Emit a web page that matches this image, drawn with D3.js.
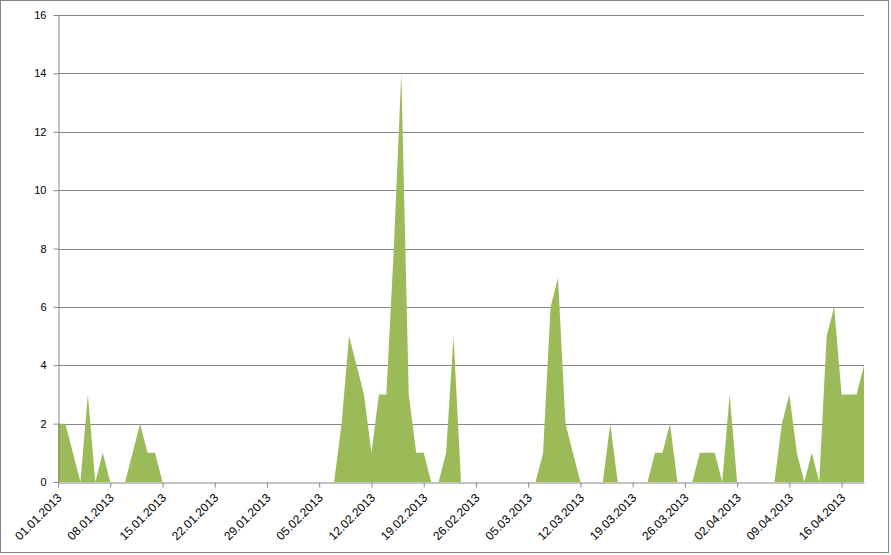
<!DOCTYPE html>
<html>
<head>
<meta charset="utf-8">
<script src="https://cdn.jsdelivr.net/npm/d3@7"></script>
<style>
  html, body { margin: 0; padding: 0; background: #fff; }
  svg { display: block; }
  text { font-family: "Liberation Sans", Arial, sans-serif; fill: #000; }
</style>
</head>
<body>
<svg id="chart" width="891" height="555"></svg>
<script>
// ---- data ----
const startDate = "2013-01-01";
const values = [
  2, 2, 1, 0, 3, 0, 1, 0, 0, 0, 1, 2, 1, 1, 0,
  0, 0, 0, 0, 0, 0, 0, 0, 0, 0, 0, 0, 0, 0, 0, 0, 0, 0, 0, 0, 0, 0,
  0, 2, 5, 4, 3, 1, 3, 3, 8, 14, 3, 1, 1, 0, 0, 1, 5, 0,
  0, 0, 0, 0, 0, 0, 0, 0, 0,
  0, 1, 6, 7, 2, 1, 0, 0, 0, 0, 2, 0, 0, 0, 0, 0, 1, 1, 2, 0,
  0, 0, 1, 1, 1, 0, 3, 0, 0, 0, 0, 0, 0, 2, 3, 1, 0, 1, 0,
  5, 6, 3, 3, 3, 4
];
const yTicks = [0, 2, 4, 6, 8, 10, 12, 14, 16];
const tickEveryDays = 7;

// ---- build ----
const parse = d3.timeParse("%Y-%m-%d");
const fmt = d3.timeFormat("%d.%m.%Y");
const d0 = parse(startDate);
const data = values.map((v, i) => ({ date: d3.timeDay.offset(d0, i), value: v }));
const xTickDates = data.filter((d, i) => i % tickEveryDays === 0).map(d => d.date);

const svg = d3.select("#chart");
const W = 891, H = 555;
const m = { left: 58, right: 27, top: 15, bottom: 73 };
const iw = W - m.left - m.right, ih = H - m.top - m.bottom;

svg.append("rect").attr("x", 0.5).attr("y", 0.5).attr("width", 888).attr("height", 552)
  .attr("fill", "#fff").attr("stroke", "#868686").attr("stroke-width", 1);

const g = svg.append("g").attr("transform", `translate(${m.left},${m.top})`);

const x = d3.scaleTime().domain([data[0].date, data[data.length - 1].date]).range([0, iw]);
const y = d3.scaleLinear().domain([0, 16]).range([ih, 0]);

// gridlines
g.append("g").selectAll("line").data(yTicks.filter(t => t > 0)).join("line")
  .attr("x1", 0).attr("x2", iw)
  .attr("y1", d => Math.round(y(d)) + 0.5).attr("y2", d => Math.round(y(d)) + 0.5)
  .attr("stroke", "#868686").attr("stroke-width", 1);

// area
const area = d3.area().x(d => x(d.date)).y0(y(0)).y1(d => y(d.value));
g.append("path").datum(data).attr("d", area).attr("fill", "#9BBB59");

// y axis
const yAxis = g.append("g").attr("transform", "translate(0.5,0)")
  .call(d3.axisLeft(y).tickValues(yTicks).tickSize(5).tickPadding(7).tickSizeOuter(0));
yAxis.select(".domain").attr("stroke", "#868686");
yAxis.selectAll(".tick line").attr("stroke", "#868686");
yAxis.selectAll("text").attr("font-size", 11).attr("fill", "#000")
  .attr("font-family", "Liberation Sans, Arial, sans-serif");

// x axis
const xAxis = g.append("g").attr("transform", `translate(0,${Math.round(ih) + 0.5})`)
  .call(d3.axisBottom(x).tickValues(xTickDates).tickFormat(fmt).tickSize(5).tickSizeOuter(0));
xAxis.select(".domain").attr("stroke", "#868686");
xAxis.selectAll(".tick line").attr("stroke", "#868686");
xAxis.selectAll(".tick text").remove();
const c = Math.SQRT1_2;
xAxis.selectAll(".tick").append("text")
  .attr("transform", `matrix(${c},${-c},${c},${c},4,16)`)
  .style("transform", "translate(4px,16px) rotate(-45deg)")
  .attr("text-anchor", "end")
  .attr("font-size", 12)
  .attr("fill", "#000")
  .attr("font-family", "Liberation Sans, Arial, sans-serif")
  .text(d => fmt(d));
</script>
</body>
</html>
